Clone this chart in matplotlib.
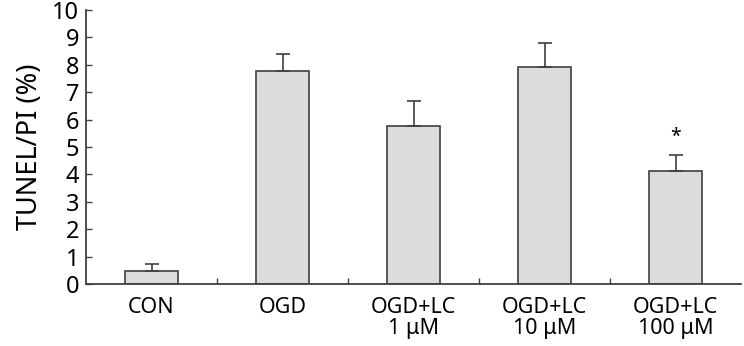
import numpy as np
import matplotlib
matplotlib.use("Agg")
from matplotlib import pyplot as plt

groups = ["CON", "OGD", "OGD+LC\n1 μM", "OGD+LC\n10 μM", "OGD+LC\n100 μM"]
means = [0.46, 7.77, 5.77, 7.92, 4.12]
errors = [0.27, 0.61, 0.92, 0.88, 0.60]
significant = [False, False, False, False, True]

plt.rcParams["font.family"] = ["Noto Sans", "DejaVu Sans"]
axis_color = "#404040"

fig = plt.figure(figsize=(7.44, 3.46), dpi=100)
ax = fig.add_axes([0.1156, 0.179, 0.8804, 0.792])

x = np.arange(len(groups))
lower = np.zeros(len(errors))
ax.bar(x, means, width=0.4, color="#dcdcdc", edgecolor=axis_color, linewidth=1.2,
       yerr=[lower, errors], error_kw=dict(ecolor=axis_color, elinewidth=1.2, capsize=5, capthick=1.2),
       zorder=2)

for xi, m, e, sig in zip(x, means, errors, significant):
    if sig:
        ax.text(xi, m + e + 0.3, "*", ha="center", va="bottom", fontsize=14, color="black")

ax.set_xlim(-0.5, len(groups) - 0.5)
ax.set_ylim(0, 10)
ax.set_yticks(range(0, 11))
ax.set_xticks(x)
ax.set_xticklabels(groups, fontsize=15.5, linespacing=1.05)
ax.set_xticks(np.arange(0.5, len(groups) - 0.5, 1), minor=True)
ax.tick_params(axis="x", which="major", length=0, pad=9)
ax.tick_params(axis="x", which="minor", direction="in", length=4, color=axis_color, width=1)
ax.tick_params(axis="y", direction="in", length=4, color=axis_color, width=1, labelsize=17, pad=5)
ax.set_ylabel("TUNEL/PI (%)", fontsize=19.5, labelpad=6)

for side in ["top", "right"]:
    ax.spines[side].set_visible(False)
for side in ["left", "bottom"]:
    ax.spines[side].set_color(axis_color)
    ax.spines[side].set_linewidth(1.3)

plt.savefig("out.png", dpi=100)
